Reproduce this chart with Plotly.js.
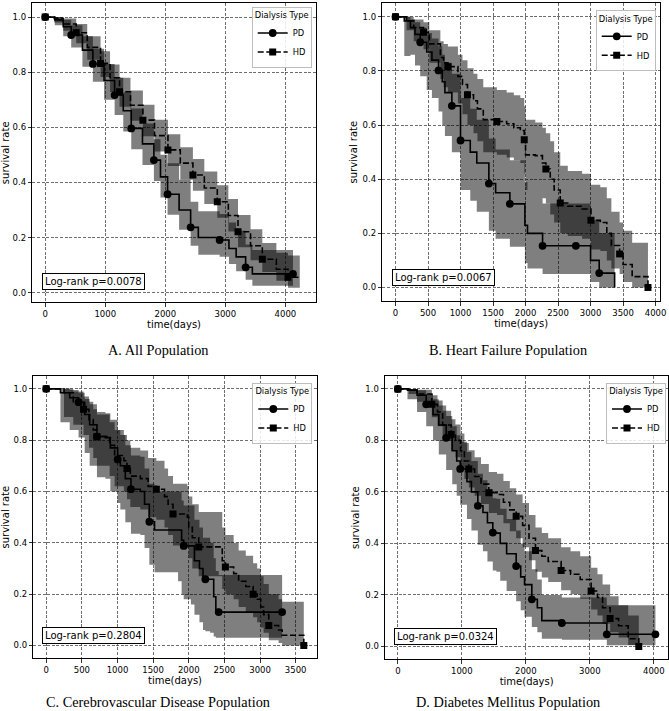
<!DOCTYPE html>
<html>
<head>
<meta charset="utf-8">
<script src="https://cdn.plot.ly/plotly-3.0.1.min.js"></script>
<style>
  html, body { margin: 0; padding: 0; background: #ffffff; }
  #chart { width: 669px; height: 711px; }
</style>
</head>
<body>
<div id="chart"></div>
<script>
// ---------- A. All Population ----------
const A_PD_t  = [0,160,300,433,620,794,980,1156,1300,1433,1620,1810,1920,2038,2230,2422,2550,2905,3060,3180,3338,3450,4127];
const A_PD_s  = [1,0.99,0.965,0.935,0.88,0.83,0.77,0.717,0.66,0.596,0.54,0.481,0.42,0.357,0.30,0.237,0.20,0.191,0.16,0.13,0.092,0.068,0.068];
const A_PD_lo = [1,0.97,0.93,0.89,0.82,0.765,0.70,0.645,0.585,0.52,0.463,0.405,0.345,0.283,0.228,0.17,0.138,0.13,0.104,0.078,0.047,0.025,0.025];
const A_PD_hi = [1,1,0.99,0.97,0.93,0.885,0.83,0.78,0.727,0.668,0.614,0.557,0.5,0.47,0.41,0.33,0.295,0.285,0.255,0.225,0.175,0.155,0.155];
const A_PD_marks = [0,3,5,7,9,11,13,15,17,20,22];

const A_HD_t  = [0,150,300,516,700,922,1080,1238,1420,1627,1820,2044,2250,2460,2650,2866,3050,3211,3420,3616,3850,4044,4240];
const A_HD_s  = [1,0.995,0.975,0.943,0.89,0.832,0.78,0.729,0.68,0.626,0.57,0.518,0.47,0.427,0.38,0.33,0.28,0.221,0.17,0.121,0.085,0.056,0.056];
const A_HD_lo = [1,0.98,0.95,0.905,0.845,0.783,0.728,0.675,0.624,0.568,0.512,0.46,0.41,0.37,0.322,0.272,0.222,0.165,0.118,0.075,0.043,0.018,0.018];
const A_HD_hi = [1,1,0.995,0.975,0.93,0.876,0.828,0.78,0.734,0.682,0.627,0.575,0.528,0.485,0.44,0.39,0.34,0.282,0.23,0.18,0.145,0.135,0.135];
const A_HD_marks = [0,3,5,7,9,11,13,15,17,19,21];

// ---------- B. Heart Failure Population ----------
const B_PD_t  = [0,135,230,300,380,480,560,662,720,760,867,1000,1150,1250,1436,1540,1759,1990,2030,2262,2774,3000,3133,3370];
const B_PD_s  = [1,0.985,0.96,0.935,0.906,0.87,0.84,0.802,0.76,0.72,0.671,0.543,0.50,0.46,0.384,0.35,0.309,0.23,0.20,0.154,0.154,0.10,0.053,0];
const B_PD_lo = [1,0.855,0.86,0.82,0.78,0.73,0.70,0.65,0.60,0.56,0.50,0.36,0.32,0.28,0.21,0.18,0.15,0.09,0.07,0.05,0.05,0.02,0,0];
const B_PD_hi = [1,1,0.99,0.98,0.96,0.94,0.92,0.89,0.86,0.83,0.79,0.70,0.66,0.62,0.55,0.51,0.47,0.39,0.36,0.31,0.31,0.25,0.20,0];
const B_PD_marks = [0,4,7,10,11,14,16,19,20,22];

const B_HD_t  = [0,170,280,431,520,690,740,806,960,1030,1107,1200,1260,1350,1559,1710,1820,1920,1980,2000,2150,2260,2313,2380,2440,2534,2650,2870,3006,3150,3250,3320,3447,3500,3640,3883];
const B_HD_s  = [1,0.985,0.96,0.943,0.90,0.85,0.83,0.816,0.78,0.75,0.712,0.69,0.66,0.62,0.613,0.605,0.59,0.58,0.546,0.49,0.487,0.46,0.438,0.40,0.36,0.312,0.30,0.29,0.248,0.24,0.20,0.155,0.124,0.085,0.04,0];
const B_HD_lo = [1,0.95,0.91,0.88,0.83,0.77,0.74,0.72,0.68,0.64,0.60,0.57,0.54,0.50,0.49,0.48,0.47,0.46,0.42,0.36,0.36,0.33,0.31,0.27,0.24,0.20,0.19,0.18,0.14,0.135,0.10,0.07,0.05,0.02,0,0];
const B_HD_hi = [1,1,0.99,0.98,0.95,0.91,0.90,0.89,0.86,0.84,0.81,0.79,0.77,0.74,0.73,0.72,0.71,0.70,0.67,0.62,0.61,0.59,0.57,0.54,0.50,0.45,0.43,0.42,0.38,0.37,0.33,0.28,0.24,0.21,0.165,0];
const B_HD_marks = [0,3,7,10,14,18,22,25,28,32,35];

// ---------- C. Cerebrovascular Disease Population ----------
const C_PD_t  = [0,200,330,454,540,610,712,830,900,1002,1040,1110,1189,1320,1380,1447,1520,1850,1900,1929,2030,2080,2150,2200,2233,2300,2350,2380,2420,3310];
const C_PD_s  = [1,0.985,0.965,0.948,0.90,0.86,0.814,0.81,0.77,0.725,0.70,0.65,0.609,0.60,0.55,0.482,0.45,0.45,0.41,0.388,0.388,0.33,0.30,0.26,0.258,0.258,0.19,0.14,0.13,0.13];
const C_PD_lo = [1,0.87,0.84,0.81,0.75,0.70,0.655,0.65,0.60,0.555,0.53,0.48,0.435,0.43,0.38,0.315,0.285,0.25,0.20,0.18,0.16,0.12,0.09,0.06,0.055,0.05,0.035,0.03,0.03,0.03];
const C_PD_hi = [1,1,0.995,0.985,0.96,0.94,0.91,0.905,0.88,0.84,0.82,0.78,0.74,0.735,0.69,0.63,0.60,0.60,0.565,0.545,0.545,0.49,0.46,0.42,0.42,0.40,0.34,0.29,0.275,0.275];
const C_PD_marks = [0,3,6,9,12,15,19,24,28,29];

const C_HD_t  = [0,250,380,524,600,660,712,890,960,1090,1133,1180,1320,1430,1545,1660,1710,1779,1980,2000,2050,2140,2400,2470,2514,2630,2700,2800,2903,2960,3010,3050,3123,3260,3310,3614];
const C_HD_s  = [1,0.985,0.95,0.92,0.88,0.84,0.814,0.78,0.74,0.72,0.69,0.66,0.65,0.62,0.609,0.58,0.55,0.512,0.50,0.46,0.42,0.384,0.384,0.33,0.306,0.28,0.25,0.23,0.20,0.18,0.15,0.12,0.078,0.06,0.04,0];
const C_HD_lo = [1,0.89,0.86,0.82,0.77,0.73,0.70,0.66,0.62,0.60,0.57,0.54,0.53,0.50,0.49,0.46,0.43,0.39,0.38,0.34,0.30,0.27,0.27,0.22,0.20,0.18,0.15,0.13,0.11,0.09,0.07,0.05,0.02,0.01,0,0];
const C_HD_hi = [1,1,0.99,0.97,0.95,0.92,0.90,0.87,0.84,0.82,0.80,0.77,0.76,0.73,0.72,0.69,0.66,0.63,0.62,0.58,0.55,0.52,0.52,0.46,0.43,0.40,0.37,0.35,0.32,0.30,0.27,0.24,0.20,0.18,0.17,0];
const C_HD_marks = [0,3,6,10,14,17,21,24,28,32,35];

// ---------- D. Diabetes Mellitus Population ----------
const D_PD_t  = [0,150,300,443,550,640,755,850,920,974,1080,1150,1250,1330,1400,1484,1540,1600,1700,1849,1920,1980,2094,2180,2250,2563,3266,4026];
const D_PD_s  = [1,0.995,0.975,0.94,0.90,0.86,0.81,0.76,0.72,0.689,0.64,0.60,0.546,0.52,0.48,0.442,0.44,0.40,0.36,0.312,0.27,0.24,0.183,0.15,0.10,0.091,0.047,0.047];
const D_PD_lo = [1,0.96,0.91,0.855,0.80,0.745,0.685,0.63,0.585,0.55,0.495,0.45,0.395,0.37,0.33,0.295,0.29,0.255,0.215,0.175,0.14,0.115,0.075,0.055,0.03,0.026,0.005,0.005];
const D_PD_hi = [1,1,0.995,0.98,0.96,0.935,0.895,0.855,0.82,0.795,0.755,0.72,0.67,0.645,0.61,0.575,0.573,0.535,0.495,0.45,0.40,0.37,0.30,0.26,0.20,0.19,0.16,0.16];
const D_PD_marks = [0,3,6,9,12,15,19,22,25,26,27];

const D_HD_t  = [0,170,300,531,620,700,833,900,980,1040,1109,1200,1300,1422,1550,1650,1750,1849,1950,2050,2151,2250,2350,2552,2700,2850,3021,3120,3200,3318,3450,3600,3766];
const D_HD_s  = [1,0.995,0.98,0.94,0.91,0.86,0.823,0.80,0.76,0.72,0.689,0.66,0.63,0.597,0.59,0.56,0.53,0.505,0.47,0.42,0.372,0.35,0.33,0.295,0.28,0.26,0.215,0.19,0.15,0.108,0.08,0.03,0];
const D_HD_lo = [1,0.98,0.95,0.89,0.855,0.80,0.76,0.735,0.69,0.65,0.617,0.585,0.553,0.518,0.51,0.478,0.447,0.42,0.385,0.335,0.29,0.268,0.25,0.218,0.203,0.185,0.143,0.12,0.088,0.055,0.035,0.006,0];
const D_HD_hi = [1,1,0.997,0.975,0.955,0.915,0.882,0.862,0.827,0.79,0.762,0.735,0.708,0.677,0.67,0.642,0.614,0.59,0.557,0.51,0.462,0.44,0.42,0.385,0.37,0.35,0.305,0.28,0.24,0.195,0.16,0.12,0];
const D_HD_marks = [0,3,6,10,13,17,20,23,26,29,32];

// ---------- texts ----------
const groupNames   = ['PD', 'HD'];
const legendTitle  = 'Dialysis Type';
const logRankP     = ['0.0078', '0.0067', '0.2804', '0.0324'];
const captions     = ['A. All Population', 'B. Heart Failure Population',
                      'C. Cerebrovascular Disease Population', 'D. Diabetes Mellitus Population'];
const yTicks       = [0, 0.2, 0.4, 0.6, 0.8, 1.0];
const xTicksA      = [0, 1000, 2000, 3000, 4000];
const xTicksB      = [0, 500, 1000, 1500, 2000, 2500, 3000, 3500, 4000];
const xTicksC      = [0, 500, 1000, 1500, 2000, 2500, 3000, 3500];
const xTicksD      = [0, 1000, 2000, 3000, 4000];

// ---------- page geometry (pixels) ----------
const W = 669, H = 711;
const px = v => v / W;
const py = v => 1 - v / H;

const panels = [
  { sfx: '',  leg: 'legend',  frame: [32.3, 3.3, 315.7, 302.3], xr: [-215, 4505], yr: [-0.035, 1.05], xt: xTicksA,
    pd: [A_PD_t, A_PD_s, A_PD_lo, A_PD_hi, A_PD_marks], hd: [A_HD_t, A_HD_s, A_HD_lo, A_HD_hi, A_HD_marks],
    legPos: [311.7, 6.7], boxPos: [93.3, 281.7], capPos: [158.3, 350] },
  { sfx: '2', leg: 'legend2', frame: [382.3, 3.3, 660.0, 301.0], xr: [-203, 4068], yr: [-0.05, 1.05], xt: xTicksB,
    pd: [B_PD_t, B_PD_s, B_PD_lo, B_PD_hi, B_PD_marks], hd: [B_HD_t, B_HD_s, B_HD_lo, B_HD_hi, B_HD_marks],
    legPos: [655.7, 10], boxPos: [443.2, 277.7], capPos: [507.7, 350] },
  { sfx: '3', leg: 'legend3', frame: [33.3, 376.0, 316.7, 658.3], xr: [-181, 3795], yr: [-0.05, 1.05], xt: xTicksC,
    pd: [C_PD_t, C_PD_s, C_PD_lo, C_PD_hi, C_PD_marks], hd: [C_HD_t, C_HD_s, C_HD_lo, C_HD_hi, C_HD_marks],
    legPos: [312.3, 382.7], boxPos: [93.8, 635.3], capPos: [157.5, 701.7] },
  { sfx: '4', leg: 'legend4', frame: [385.0, 376.0, 668.3, 659.3], xr: [-201, 4227], yr: [-0.05, 1.05], xt: xTicksD,
    pd: [D_PD_t, D_PD_s, D_PD_lo, D_PD_hi, D_PD_marks], hd: [D_HD_t, D_HD_s, D_HD_lo, D_HD_hi, D_HD_marks],
    legPos: [666.0, 382.7], boxPos: [445.2, 636.3], capPos: [508.3, 701.7] }
];

const BAND_FILL = 'rgba(0,0,0,0.5)';
const TICK_FONT = { family: 'DejaVu Sans', size: 8.5, color: '#000000' };
const TITLE_FONT = { family: 'DejaVu Sans', size: 10, color: '#000000' };
const LEG_FONT = { family: 'DejaVu Sans', size: 8.3, color: '#000000' };

const traces = [];
const layout = {
  width: W, height: H,
  margin: { l: 0, r: 0, t: 0, b: 0 },
  paper_bgcolor: '#ffffff', plot_bgcolor: '#ffffff',
  showlegend: true,
  annotations: [],
  font: { family: 'DejaVu Sans', color: '#000000' }
};

// confidence band: lower edge, then upper edge filled down to it
function bandTraces(series, xa, ya) {
  const [t, , lo, hi] = series;
  traces.push({ type: 'scatter', x: t, y: lo, xaxis: xa, yaxis: ya, mode: 'lines',
    line: { width: 0, shape: 'hv' }, showlegend: false, hoverinfo: 'skip' });
  traces.push({ type: 'scatter', x: t, y: hi, xaxis: xa, yaxis: ya, mode: 'lines',
    line: { width: 0, shape: 'hv' }, fill: 'tonexty', fillcolor: BAND_FILL,
    showlegend: false, hoverinfo: 'skip' });
}

// survival step curve; only the listed points carry a visible marker
function curveTrace(series, name, symbol, dash, xa, ya, leg) {
  const [t, s, , , marks] = series;
  const colors = t.map((_, i) => marks.includes(i) ? '#000000' : 'rgba(0,0,0,0)');
  traces.push({ type: 'scatter', x: t, y: s, xaxis: xa, yaxis: ya, name: name, legend: leg,
    mode: 'lines+markers',
    line: { color: '#000000', width: 1.6, shape: 'hv', dash: dash },
    marker: { symbol: symbol, size: symbol === 'square' ? 7 : 7.8, color: colors, line: { width: 0 } } });
}

panels.forEach((p, k) => {
  const xa = 'x' + p.sfx, ya = 'y' + p.sfx;
  const [l, t, r, b] = p.frame;

  bandTraces(p.pd, xa, ya);
  bandTraces(p.hd, xa, ya);
  curveTrace(p.pd, groupNames[0], 'circle', 'solid', xa, ya, p.leg);
  curveTrace(p.hd, groupNames[1], 'square', '6px,2.6px', xa, ya, p.leg);

  const common = {
    showline: true, mirror: true, linecolor: '#000000', linewidth: 1,
    ticks: 'outside', ticklen: 3.5, tickwidth: 0.8, tickcolor: '#000000',
    showgrid: true, gridcolor: '#4a4a4a', gridwidth: 0.8, griddash: '3px,1.6px',
    zeroline: false, tickfont: TICK_FONT, fixedrange: true
  };
  layout['xaxis' + p.sfx] = Object.assign({}, common, {
    domain: [px(l), px(r)], anchor: ya, range: p.xr,
    tickmode: 'array', tickvals: p.xt, ticktext: p.xt.map(String),
    title: { text: 'time(days)', font: TITLE_FONT, standoff: 2 }
  });
  layout['yaxis' + p.sfx] = Object.assign({}, common, {
    domain: [py(b), py(t)], anchor: xa, range: p.yr,
    tickmode: 'array', tickvals: yTicks, ticktext: yTicks.map(v => v.toFixed(1)),
    title: { text: 'survival rate', font: TITLE_FONT, standoff: 3 }
  });

  layout[p.leg] = {
    x: px(p.legPos[0]), y: py(p.legPos[1]), xanchor: 'right', yanchor: 'top',
    xref: 'paper', yref: 'paper', traceorder: 'normal',
    bgcolor: 'rgba(255,255,255,0.85)', bordercolor: '#bdbdbd', borderwidth: 1,
    font: LEG_FONT,
    title: { text: legendTitle, side: 'top center', font: LEG_FONT },
    itemwidth: 30, tracegroupgap: 0
  };

  layout.annotations.push({
    xref: 'paper', yref: 'paper', x: px(p.boxPos[0]), y: py(p.boxPos[1]),
    xanchor: 'center', yanchor: 'middle', showarrow: false,
    text: 'Log-rank p=' + logRankP[k],
    font: { family: 'DejaVu Sans', size: 10, color: '#000000' },
    bgcolor: '#ffffff', bordercolor: '#000000', borderwidth: 1, borderpad: 2
  });
  layout.annotations.push({
    xref: 'paper', yref: 'paper', x: px(p.capPos[0]), y: py(p.capPos[1]),
    xanchor: 'center', yanchor: 'middle', showarrow: false,
    text: captions[k],
    font: { family: 'Liberation Serif', size: 14.3, color: '#000000' }
  });
});

Plotly.newPlot('chart', traces, layout, { staticPlot: true, displayModeBar: false });
</script>
</body>
</html>
